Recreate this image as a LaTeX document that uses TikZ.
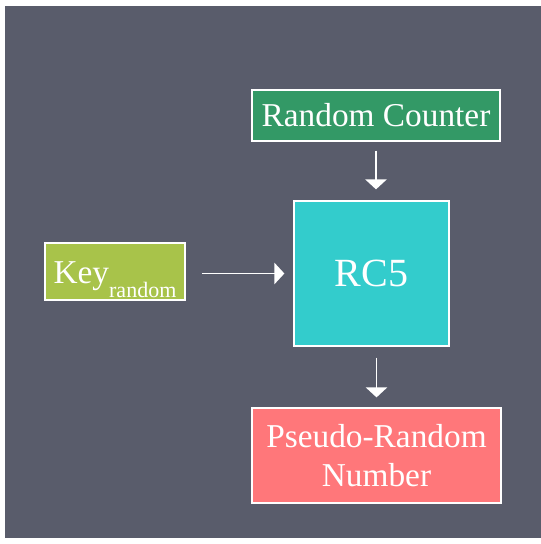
\documentclass[tikz,border=0pt]{standalone}
\usepackage{fontspec}
\setmainfont{Liberation Serif}
\usetikzlibrary{arrows.meta, positioning, calc}
\definecolor{cBack}{RGB}{89,92,107}
\definecolor{cGreen}{RGB}{51,153,102}
\definecolor{cLime}{RGB}{168,195,74}
\definecolor{cTeal}{RGB}{51,204,204}
\definecolor{cRose}{RGB}{255,119,122}
\tikzset{
	block/.style={rectangle, draw=white, line width=1.2pt, text=white, align=center, inner sep=0pt},
	flowarrow/.style={-{Triangle[width=16pt, length=7.5pt]}, draw=white, line width=1.1pt},
}
\begin{document}
\begin{tikzpicture}[x=0.75pt, y=-0.75pt]
	% frame and background
	\useasboundingbox (0,0) rectangle (541,544);
	\fill[white] (0,0) rectangle (541,544);
	\fill[cBack] (5,6) rectangle (541,538);
	% blocks
	\node[block, fill=cGreen, minimum width=186pt, minimum height=38pt, font=\fontsize{25}{29}\selectfont] (counter) at (376,115.5) {Random Counter};
	\node[block, fill=cTeal, minimum width=116pt, minimum height=109pt, font=\fontsize{30}{34}\selectfont] (rcfive) at (371.5,273.5) {RC5};
	\node[block, fill=cLime, minimum width=105pt, text height=30pt, text depth=12.75pt, font=\fontsize{25}{29}\selectfont] (key) at (115,271.5) {Key\raisebox{-11pt}{\fontsize{16.5}{16.5}\selectfont random}};
	\node[block, fill=cRose, minimum width=187pt, minimum height=71pt, font=\fontsize{25}{29}\selectfont] (number) at (376.5,455.5) {Pseudo-Random\\Number};
	% arrows
	\draw[flowarrow, shorten <=6.75pt, shorten >=8pt] (counter.south) -- (counter.south |- rcfive.north);
	\draw[flowarrow, shorten <=12pt, shorten >=6.75pt] (key.east |- rcfive.west) -- (rcfive.west);
	\draw[flowarrow, shorten <=8pt, shorten >=7.5pt] (number.north |- rcfive.south) -- (number.north);
\end{tikzpicture}
\end{document}
